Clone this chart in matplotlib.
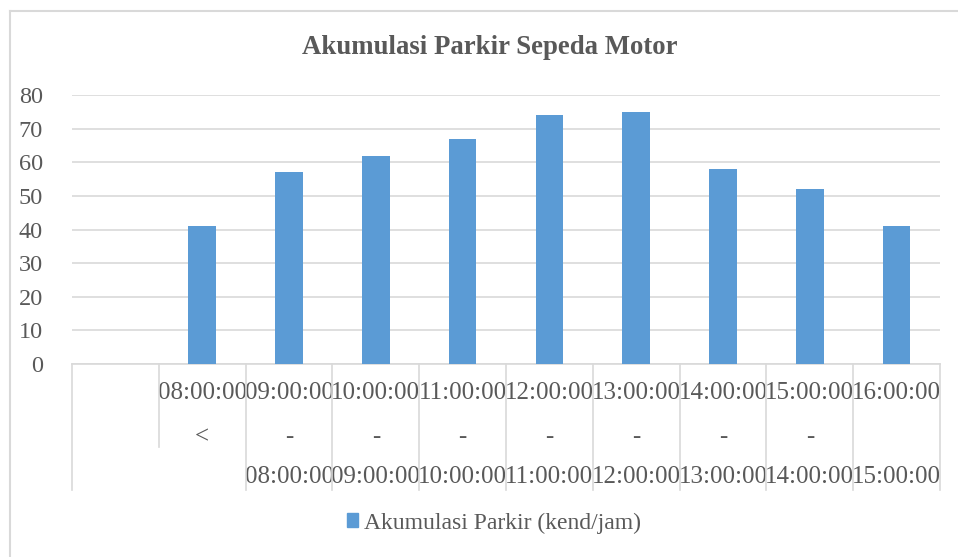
import matplotlib
matplotlib.use("Agg")
import matplotlib.pyplot as plt
from matplotlib.transforms import blended_transform_factory
from matplotlib.patches import Rectangle
from matplotlib.lines import Line2D

title = "Akumulasi Parkir Sepeda Motor"
series_name = "Akumulasi Parkir (kend/jam)"
start_labels = ["", "08:00:00", "09:00:00", "10:00:00", "11:00:00", "12:00:00",
                "13:00:00", "14:00:00", "15:00:00", "16:00:00"]
sep_labels = ["", "<", "-", "-", "-", "-", "-", "-", "-", ""]
end_labels = ["", "", "08:00:00", "09:00:00", "10:00:00", "11:00:00",
              "12:00:00", "13:00:00", "14:00:00", "15:00:00"]
values = [None, 41, 57, 62, 67, 74, 75, 58, 52, 41]
yticks = [0, 10, 20, 30, 40, 50, 60, 70, 80]

W, H = 958, 557
TXT = "#595959"
GRID = "#d9d9d9"
BAR = "#5b9bd5"
plt.rcParams['font.family'] = ['Liberation Serif', 'DejaVu Serif']

fig = plt.figure(figsize=(W / 100, H / 100), dpi=100)
fig.patch.set_facecolor("white")

def fx(px):
    return px / W

def fy(py):
    return 1 - py / H

# outer chart border
fig.add_artist(Line2D([fx(9.5), fx(9.5)], [fy(11), 0], color=GRID, lw=1.5))
fig.add_artist(Line2D([fx(9.5), 1], [fy(11), fy(11)], color=GRID, lw=1.5))

ax = fig.add_axes([fx(72), fy(364), fx(940) - fx(72), fy(95) - fy(364)])
n = len(start_labels)
xs = list(range(n))
bx = [x for x, v in zip(xs, values) if v is not None]
bv = [v for v in values if v is not None]
ax.bar(bx, bv, width=0.32, color=BAR, zorder=3)
ax.set_xlim(-0.5, n - 0.5)
ax.set_ylim(0, 80)
ax.set_yticks(yticks)
ax.set_yticklabels([str(t) for t in yticks], fontsize=17.5, color=TXT)
ax.tick_params(axis='y', length=0, pad=21)
ax.set_xticks([])
ax.grid(axis='y', color=GRID, lw=1.2, zorder=0)
for s in ['top', 'right', 'left']:
    ax.spines[s].set_visible(False)
ax.spines['bottom'].set_color(GRID)
ax.spines['bottom'].set_linewidth(1.2)

trans = blended_transform_factory(ax.transData, fig.transFigure)
# category boundary lines
for i in range(n + 1):
    xb = i - 0.5
    ybot = 447 if i == 1 else 490
    fig.add_artist(Line2D([xb, xb], [fy(364), fy(ybot)], transform=trans,
                          color=GRID, lw=1.2, clip_on=False))
LF = 18
for i in xs:
    if start_labels[i]:
        ax.text(i, fy(393), start_labels[i], transform=trans, ha='center', va='center',
                fontsize=LF, color=TXT)
    if sep_labels[i]:
        ax.text(i, fy(437), sep_labels[i], transform=trans, ha='center', va='center',
                fontsize=LF, color=TXT)
    if end_labels[i]:
        ax.text(i, fy(477), end_labels[i], transform=trans, ha='center', va='center',
                fontsize=LF, color=TXT)

fig.text(fx(490), fy(48), title, ha='center', va='center', fontsize=19.3,
         fontweight='bold', color=TXT)

# legend
fig.legend(handles=[Rectangle((0, 0), 1, 1, color=BAR)], labels=[series_name],
           loc='center', bbox_to_anchor=(fx(494), fy(523)), frameon=False,
           fontsize=17, labelcolor=TXT, handlelength=0.5, handleheight=0.5,
           handletextpad=0.25)

fig.savefig("out.png", dpi=100, facecolor="white")
